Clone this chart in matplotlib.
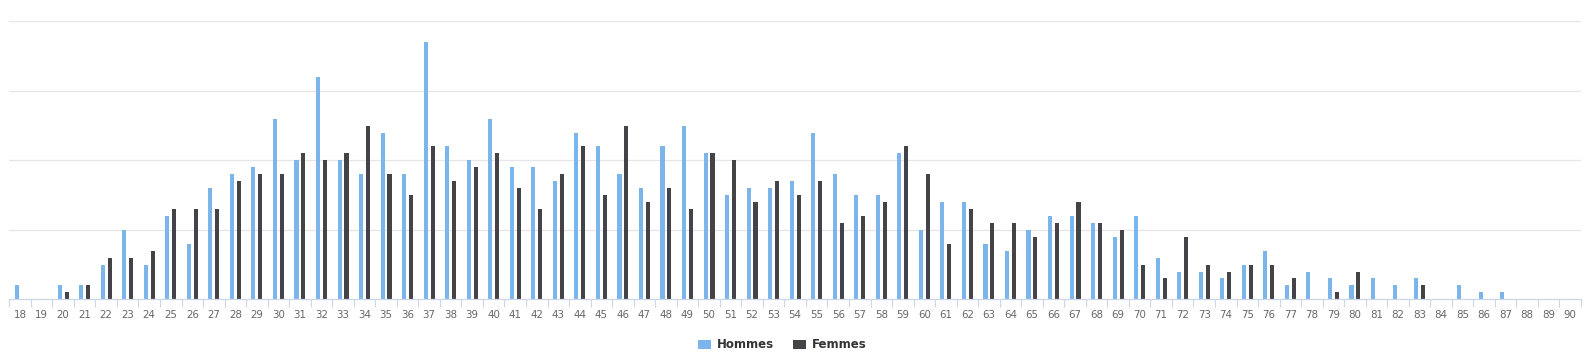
import matplotlib
matplotlib.use("Agg")
import matplotlib.pyplot as plt
from matplotlib.patches import Patch
import numpy as np

ages = list(range(18, 91))
hommes = [2, 0, 2, 2, 5, 10, 5, 12, 8, 16, 18, 19, 26, 20, 32, 20, 18, 24, 18, 37,
          22, 20, 26, 19, 19, 17, 24, 22, 18, 16, 22, 25, 21, 15, 16, 16, 17, 24, 18, 15,
          15, 21, 10, 14, 14, 8, 7, 10, 12, 12, 11, 9, 12, 6, 4, 4, 3, 5, 7, 2,
          4, 3, 2, 3, 2, 3, 0, 2, 1, 1, 0, 0, 0]
femmes = [0, 0, 1, 2, 6, 6, 7, 13, 13, 13, 17, 18, 18, 21, 20, 21, 25, 18, 15, 22,
          17, 19, 21, 16, 13, 18, 22, 15, 25, 14, 16, 13, 21, 20, 14, 17, 15, 17, 11, 12,
          14, 22, 18, 8, 13, 11, 11, 9, 11, 14, 11, 10, 5, 3, 9, 5, 4, 5, 5, 3,
          0, 1, 4, 0, 0, 2, 0, 0, 0, 0, 0, 0, 0]
series_names = ["Hommes", "Femmes"]
colors = ["#7cb5ec", "#434348"]

W, H = 1588, 357
fig = plt.figure(figsize=(W / 100, H / 100), dpi=100)
ax = fig.add_axes([9.3 / W, (H - 299.3) / H, (1581 - 9.3) / W, (299.3 - 21.3) / H])

x = np.arange(len(ages))
bw = 0.19
off = 0.16
ax.bar(x - off, hommes, width=bw, color=colors[0], zorder=3, linewidth=0)
ax.bar(x + off, femmes, width=bw, color=colors[1], zorder=3, linewidth=0)

ax.set_xlim(-0.5, len(ages) - 0.5)
ax.set_ylim(0, 40)
ax.set_yticks([10, 20, 30, 40])
ax.yaxis.grid(True, color="#e6e6e6", linewidth=0.9, zorder=0)
ax.tick_params(axis="y", left=False, labelleft=False)

ax.set_xticks(x)
ax.set_xticklabels([str(a) for a in ages], fontsize=7.4, color="#666666")
ax.set_xticks(np.arange(-0.5, len(ages)), minor=True)
ax.tick_params(axis="x", which="major", length=0, pad=7.5)
ax.tick_params(axis="x", which="minor", length=5.5, width=0.8, color="#ccd6eb")

for s in ["top", "right", "left"]:
    ax.spines[s].set_visible(False)
ax.spines["bottom"].set_color("#ccd6eb")
ax.spines["bottom"].set_linewidth(0.9)
ax.spines["bottom"].set_zorder(4)

handles = [Patch(facecolor=c, edgecolor="none") for c in colors]
leg = fig.legend(handles, series_names, loc="center", bbox_to_anchor=(782 / W, 1 - 345 / H),
                 ncol=2, frameon=False, handlelength=1.15, handleheight=0.9,
                 handletextpad=0.45, columnspacing=1.6,
                 prop={"weight": "bold", "size": 8.5})
for t in leg.get_texts():
    t.set_color("#333333")

fig.savefig("out.png", dpi=100, facecolor="white")
